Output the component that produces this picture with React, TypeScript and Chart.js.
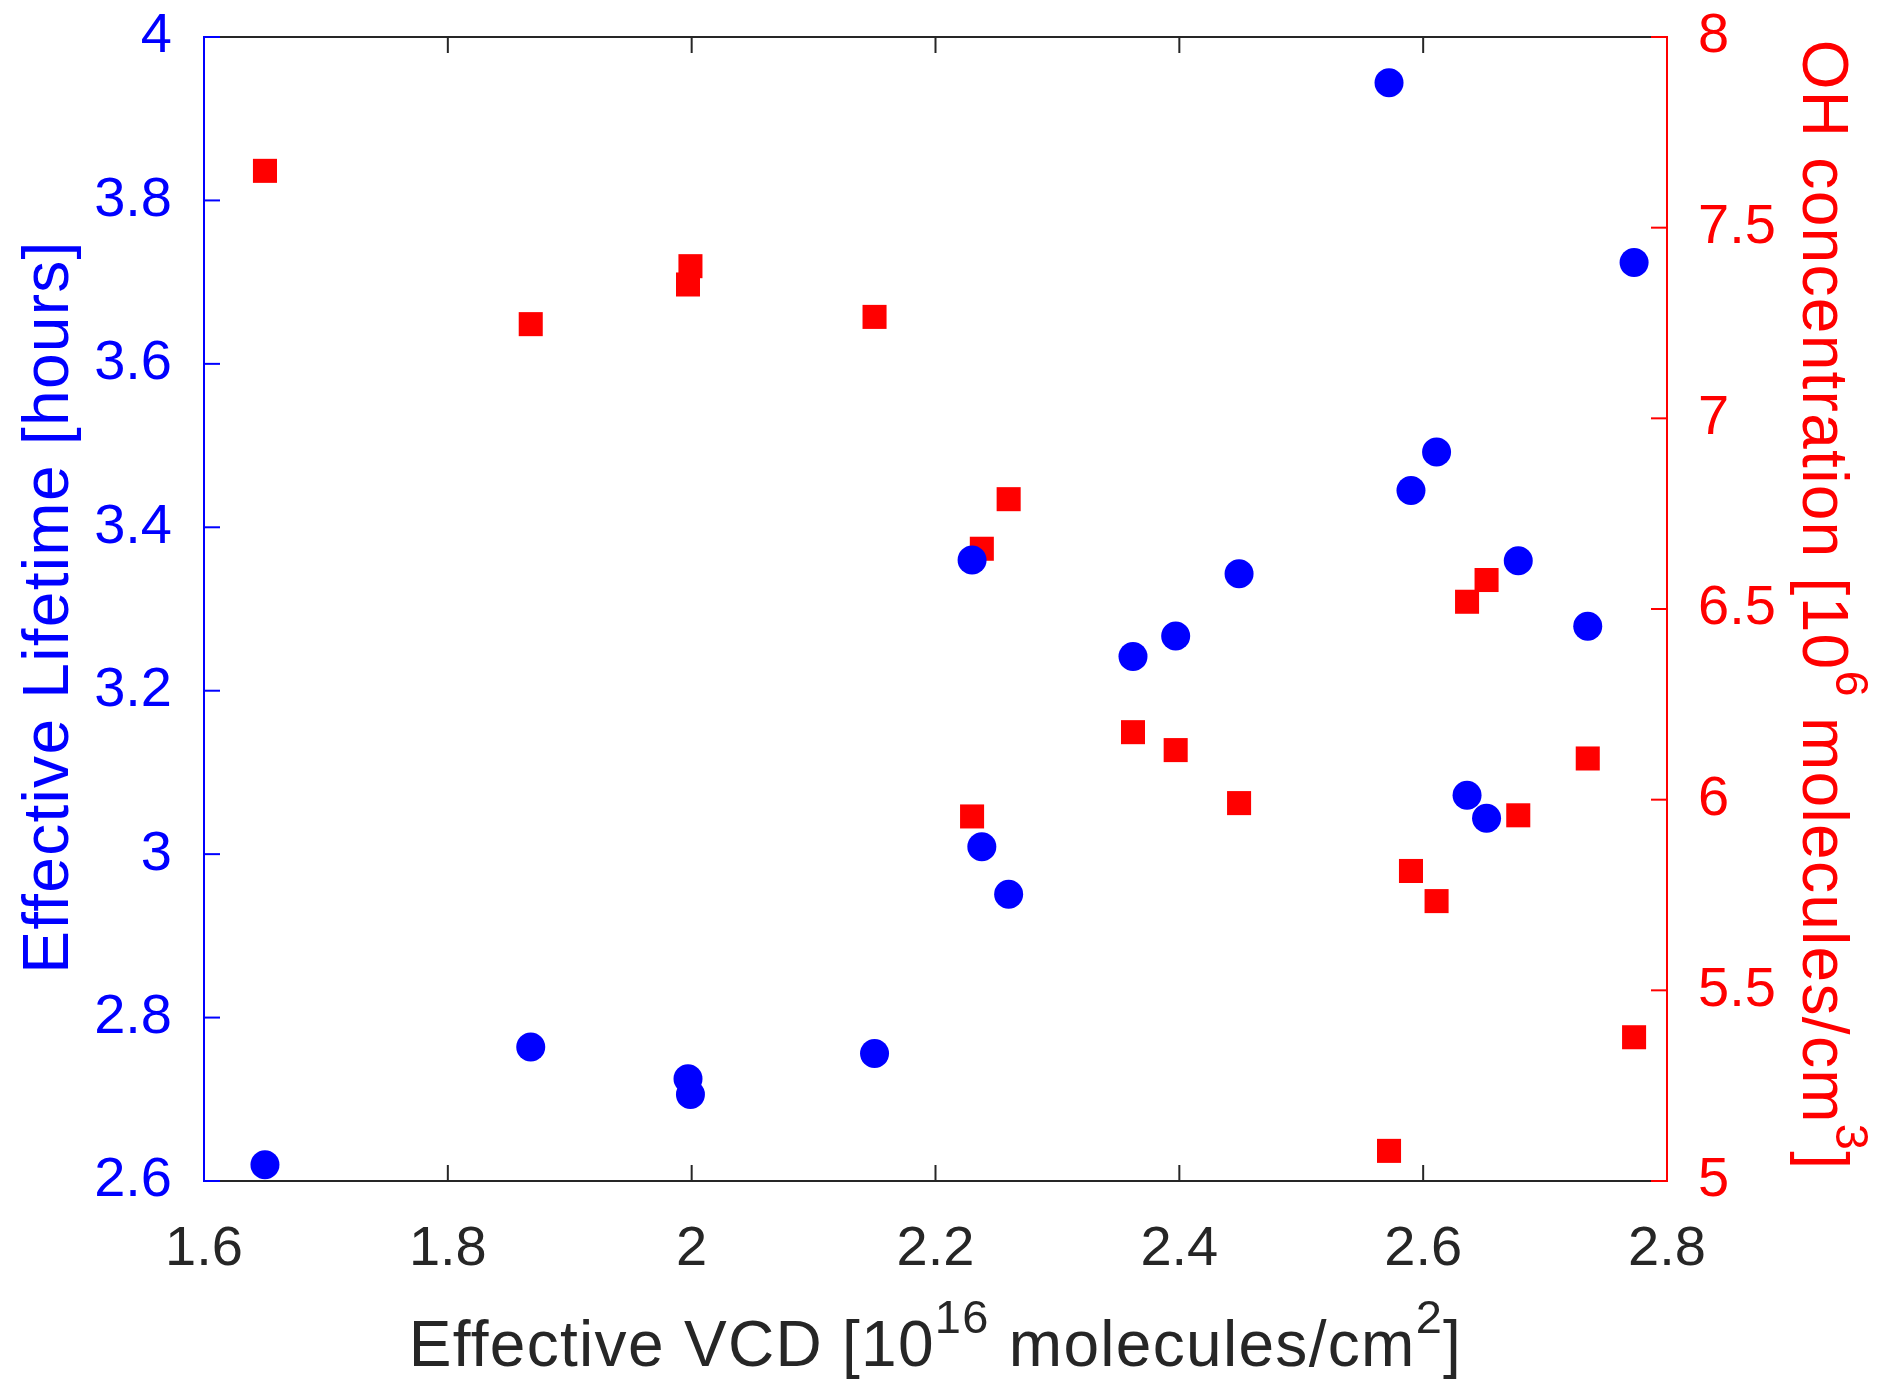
import React, { useEffect, useRef } from "react";
import { Chart, registerables } from "chart.js";

Chart.register(...registerables);

// Effective VCD [10^16 molecules/cm^2]
const vcd = [
  1.65, 1.868, 1.997, 1.999, 2.15, 2.23, 2.238, 2.26, 2.362, 2.397,
  2.449, 2.572, 2.59, 2.611, 2.636, 2.652, 2.678, 2.735, 2.773,
];
// Effective lifetime [hours] (left axis, blue circles)
const lifetime = [
  2.62, 2.764, 2.725, 2.706, 2.756, 3.36, 3.009, 2.951, 3.242, 3.267,
  3.343, 3.944, 3.445, 3.492, 3.072, 3.044, 3.359, 3.279, 3.724,
];
// OH concentration [10^6 molecules/cm^3] (right axis, red squares)
const ohConc = [
  7.649, 7.247, 7.351, 7.399, 7.266, 5.956, 6.658, 6.788, 6.177, 6.13,
  5.991, 5.079, 5.813, 5.734, 6.519, 6.576, 5.959, 6.108, 5.377,
];

const xTicks = [1.6, 1.8, 2, 2.2, 2.4, 2.6, 2.8];
const lifetimeTicks = [2.6, 2.8, 3, 3.2, 3.4, 3.6, 3.8, 4];
const ohTicks = [5, 5.5, 6, 6.5, 7, 7.5, 8];

const BLUE = "#0000ff";
const RED = "#ff0000";
const GRAY = "#262626";
const FONT = '"Liberation Sans", Arial, Helvetica, sans-serif';
const TICK_SIZE = 56;
const TITLE_SIZE = 64;
const SUP_SIZE = 47;
const SUP_RAISE = 33;
const TITLE_SPACING = 1.3;
const TICK_LEN = 15;

type Part = { t: string; sup?: boolean };

const xTitle: Part[] = [
  { t: "Effective VCD [10" },
  { t: "16", sup: true },
  { t: " molecules/cm" },
  { t: "2", sup: true },
  { t: "]" },
];
const leftTitle: Part[] = [{ t: "Effective Lifetime [hours]" }];
const rightTitle: Part[] = [
  { t: "OH concentration [10" },
  { t: "6", sup: true },
  { t: " molecules/cm" },
  { t: "3", sup: true },
  { t: "]" },
];

const fmt = (v: number) => String(Math.round(v * 10) / 10);

function drawRich(
  ctx: CanvasRenderingContext2D,
  parts: Part[],
  x: number,
  y: number,
  rot: number,
  color: string
) {
  ctx.save();
  ctx.translate(x, y);
  ctx.rotate(rot);
  ctx.fillStyle = color;
  ctx.textAlign = "left";
  ctx.textBaseline = "alphabetic";
  (ctx as any).letterSpacing = `${TITLE_SPACING}px`;
  const widths = parts.map((p) => {
    ctx.font = `${p.sup ? SUP_SIZE : TITLE_SIZE}px ${FONT}`;
    return ctx.measureText(p.t).width;
  });
  let cx = -widths.reduce((a, b) => a + b, 0) / 2;
  parts.forEach((p, i) => {
    ctx.font = `${p.sup ? SUP_SIZE : TITLE_SIZE}px ${FONT}`;
    ctx.fillText(p.t, cx, p.sup ? -SUP_RAISE : 0);
    cx += widths[i];
  });
  ctx.restore();
}

const framePlugin = {
  id: "frame",
  afterDraw(chart: any) {
    const { ctx, chartArea, scales } = chart;
    const { left, right, top, bottom } = chartArea;
    const line = (x1: number, y1: number, x2: number, y2: number) => {
      ctx.beginPath();
      ctx.moveTo(x1, y1);
      ctx.lineTo(x2, y2);
      ctx.stroke();
    };
    ctx.save();
    ctx.lineWidth = 2;
    ctx.lineCap = "square";

    ctx.strokeStyle = GRAY;
    line(left, top, right, top);
    line(left, bottom, right, bottom);
    xTicks.forEach((v) => {
      const px = scales.x.getPixelForValue(v);
      line(px, bottom, px, bottom - TICK_LEN);
      line(px, top, px, top + TICK_LEN);
    });

    ctx.strokeStyle = BLUE;
    line(left, top, left, bottom);
    lifetimeTicks.forEach((v) => {
      const py = scales.y.getPixelForValue(v);
      line(left, py, left + TICK_LEN, py);
    });

    ctx.strokeStyle = RED;
    line(right, top, right, bottom);
    ohTicks.forEach((v) => {
      const py = scales.y1.getPixelForValue(v);
      line(right, py, right - TICK_LEN, py);
    });
    ctx.restore();

    const midY = (top + bottom) / 2;
    drawRich(ctx, xTitle, (left + right) / 2, 1366, 0, GRAY);
    drawRich(ctx, leftTitle, 68, midY - 2, -Math.PI / 2, BLUE);
    drawRich(ctx, rightTitle, 1803, midY - 4, Math.PI / 2, RED);
  },
};

const fitY = (width: number) => (s: any) => {
  s.width = width;
  s.paddingTop = 0;
  s.paddingBottom = 0;
};

const App: React.FC = () => {
  const chartRef = useRef<HTMLCanvasElement | null>(null);
  const chartInstance = useRef<Chart | null>(null);

  useEffect(() => {
    if (!chartRef.current) return;
    if (chartInstance.current) chartInstance.current.destroy();
    const ctx = chartRef.current.getContext("2d");
    if (!ctx) return;

    chartInstance.current = new Chart(ctx, {
      type: "scatter",
      data: {
        datasets: [
          {
            label: "Effective Lifetime",
            data: vcd.map((x, i) => ({ x, y: lifetime[i] })),
            yAxisID: "y",
            pointStyle: "circle",
            pointRadius: 14.5,
            pointHoverRadius: 14.5,
            backgroundColor: BLUE,
            borderWidth: 0,
            clip: false,
          },
          {
            label: "OH concentration",
            data: vcd.map((x, i) => ({ x, y: ohConc[i] })),
            yAxisID: "y1",
            pointStyle: "rect",
            pointRadius: 17,
            pointHoverRadius: 17,
            backgroundColor: RED,
            borderWidth: 0,
            clip: false,
          },
        ],
      },
      options: {
        animation: false,
        responsive: true,
        maintainAspectRatio: false,
        layout: { padding: { top: 37, left: 0, right: 0, bottom: 0 } },
        plugins: {
          legend: { display: false },
          tooltip: { enabled: false },
        },
        scales: {
          x: {
            type: "linear",
            min: 1.6,
            max: 2.8,
            grid: { display: false },
            border: { display: false },
            afterBuildTicks: (s: any) => {
              s.ticks = xTicks.map((value) => ({ value }));
            },
            afterFit: (s: any) => {
              s.height = 217;
              s.paddingLeft = 0;
              s.paddingRight = 0;
            },
            ticks: {
              color: GRAY,
              padding: 27,
              maxRotation: 0,
              autoSkip: false,
              font: { family: FONT, size: TICK_SIZE },
              callback: (v: any) => fmt(Number(v)),
            },
          },
          y: {
            type: "linear",
            position: "left",
            min: 2.6,
            max: 4,
            grid: { display: false },
            border: { display: false },
            afterBuildTicks: (s: any) => {
              s.ticks = lifetimeTicks.map((value) => ({ value }));
            },
            afterFit: fitY(204),
            ticks: {
              color: BLUE,
              padding: 24,
              autoSkip: false,
              font: { family: FONT, size: TICK_SIZE },
              callback: (v: any) => fmt(Number(v)),
            },
          },
          y1: {
            type: "linear",
            position: "right",
            min: 5,
            max: 8,
            grid: { display: false },
            border: { display: false },
            afterBuildTicks: (s: any) => {
              s.ticks = ohTicks.map((value) => ({ value }));
            },
            afterFit: fitY(225),
            ticks: {
              color: RED,
              padding: 23,
              autoSkip: false,
              font: { family: FONT, size: TICK_SIZE },
              callback: (v: any) => fmt(Number(v)),
            },
          },
        },
      },
      plugins: [framePlugin],
    });

    return () => {
      if (chartInstance.current) {
        chartInstance.current.destroy();
        chartInstance.current = null;
      }
    };
  }, []);

  return (
    <div
      style={{
        position: "fixed",
        left: 0,
        top: 0,
        width: 1892,
        height: 1398,
        background: "#fff",
      }}
    >
      <canvas ref={chartRef}></canvas>
    </div>
  );
};

export default App;
